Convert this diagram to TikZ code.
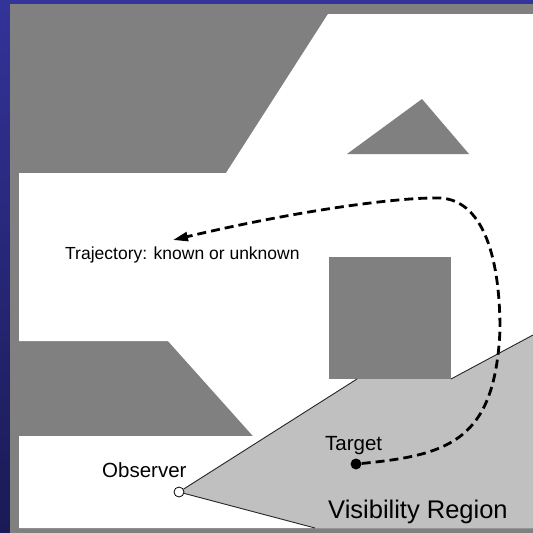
\documentclass[tikz,border=0pt]{standalone}
\usepackage{fontspec}
\setmainfont{Liberation Sans}
\usetikzlibrary{arrows.meta}
\definecolor{obst}{HTML}{808080}
\definecolor{vis}{HTML}{C0C0C0}
\definecolor{bluetop}{HTML}{333399}
\definecolor{bluebot}{HTML}{1A1A55}
\begin{document}
\begin{tikzpicture}[x=1pt,y=-1pt,
  edge/.style={draw=black!85,line width=0.9pt},
  lbl/.style={inner sep=0pt,anchor=base west,text=black},
  traj/.style={draw=black,line width=2.8pt,dash pattern=on 9pt off 5pt,
    -{Triangle[length=15pt,width=9pt]}}]
\useasboundingbox (0,0) rectangle (533,533);
% background frame
\shade[top color=bluetop,bottom color=bluebot] (0,0) rectangle (533,533);
\fill[obst] (10,4) rectangle (533,533);
% free space
\fill[white] (328,14) -- (533,14) -- (533,528) -- (19,528) -- (19,436)
  -- (253,436) -- (168,341) -- (19,341) -- (19,173) -- (226,173) -- cycle;
% obstacles
\fill[obst] (422,99) -- (469,154) -- (347,154) -- cycle;
\fill[obst] (329,257) rectangle (451,379);
% visibility region
\fill[vis] (179,492) -- (357,379) -- (451,379) -- (533,335) -- (533,528)
  -- (315,528) -- cycle;
\coordinate (ve1) at (357,379);
\coordinate (ve2) at (315,528);
\coordinate (ve3) at (451,379);
\coordinate (ve4) at (533,335);
\coordinate (trajend) at (173,240);
% observer and target
\node[circle,draw=black,fill=white,line width=0.8pt,minimum size=10pt,inner sep=0pt] (obs) at (179,492) {};
\draw[edge] (obs) -- (ve1);
\draw[edge] (obs) -- (ve2);
\draw[edge] (ve3) -- (ve4);
\node[circle,fill=black,minimum size=11pt,inner sep=0pt] (tgt) at (356,464) {};
% trajectory
\draw[traj] (tgt) .. controls (450,455) and (495,440) .. (500,330)
  .. controls (500,250) and (480,200) .. (440,198)
  .. controls (400,197) and (300,210) .. (trajend);
% labels
\node[lbl,font=\fontsize{17.5}{20}\selectfont] (trajlbl) at (65,259) {Trajectory: known or unknown};
\node[lbl,font=\fontsize{20.5}{24}\selectfont] (obslbl) at (102,477) {Observer};
\node[lbl,font=\fontsize{20.5}{24}\selectfont] (tgtlbl) at (325,450) {Target};
\node[lbl,font=\fontsize{25.5}{30}\selectfont] (vislbl) at (328,518) {Visibility Region};
\end{tikzpicture}
\end{document}
